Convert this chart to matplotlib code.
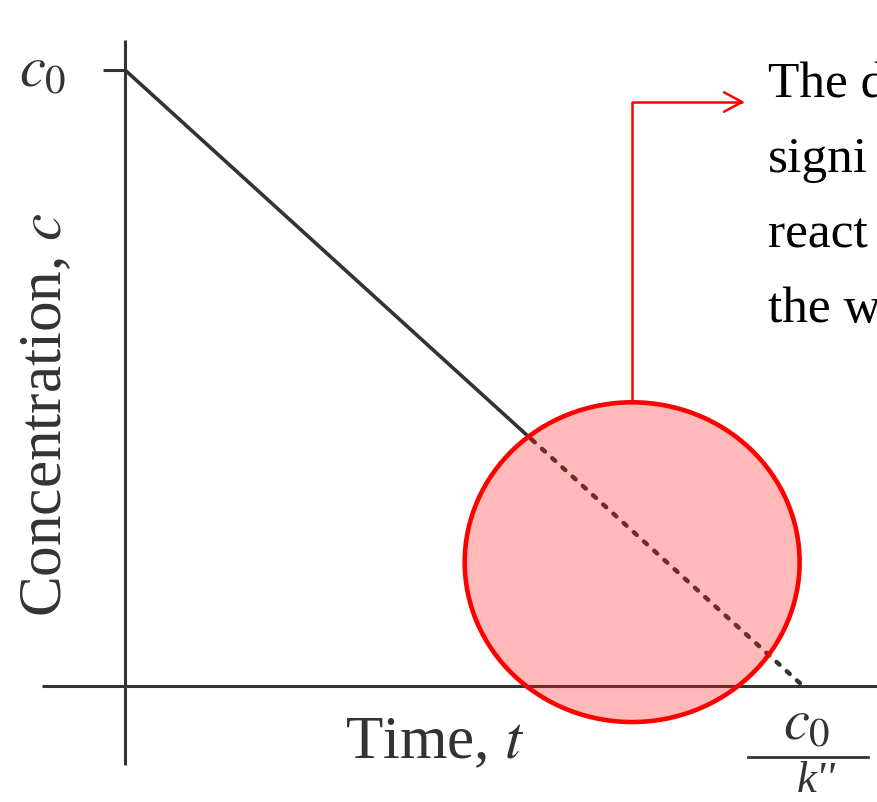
import matplotlib
matplotlib.use('Agg')
import matplotlib.pyplot as plt
from matplotlib.patches import Ellipse

plt.rcParams['font.family'] = ['Liberation Serif', 'DejaVu Serif']
plt.rcParams['mathtext.fontset'] = 'stix'

# zero-order decay c = c0 - k'' t, with c0 = 1 and k'' = 1
c0 = 1.0
k2 = 1.0
t_solid = [0.0, 0.6]
c_solid = [1.0, 0.4]
t_dotted = [0.6, 1.0]
c_dotted = [0.4, 0.0]

note_lines = ['The d', 'signi', 'react', 'the w']

ink = '#333333'

fig = plt.figure(figsize=(8.78, 8.02), dpi=100)
ax = fig.add_axes([0, 0, 1, 1])
ax.set_xlim(-0.1844, 1.1106)
ax.set_ylim(-0.1883, 1.1136)
ax.axis('off')

# hand-drawn style axes
ax.plot([0, 0], [-0.128, 1.049], color=ink, lw=2.2, solid_capstyle='butt')
ax.plot([-0.122, 1.12], [0, 0], color=ink, lw=2.2, solid_capstyle='butt')
ax.plot([-0.0324, 0], [c0, c0], color=ink, lw=2.2, solid_capstyle='butt')

ax.plot(t_solid, c_solid, color=ink, lw=2.6, solid_capstyle='round')
ax.plot(t_dotted, c_dotted, color=ink, lw=3.2, linestyle=(0, (0.9, 2.2)),
        dash_capstyle='round')

# highlight circle
circ = Ellipse((0.748, 0.201), 0.494, 0.519, facecolor=(1, 0.1, 0.1, 0.3),
               edgecolor='red', lw=3.3, zorder=5)
ax.add_patch(circ)

ax.annotate('', xy=(0.914, 0.948), xytext=(0.748, 0.461),
            arrowprops=dict(arrowstyle='->,head_length=0.65,head_width=0.35',
                            color='red', lw=1.8, mutation_scale=20,
                            shrinkA=0, shrinkB=0,
                            connectionstyle='angle,angleA=90,angleB=0,rad=0'),
            zorder=6)

# labels
ax.text(-0.121, 0.995, r'$c_0$', fontsize=42, color=ink, ha='center', va='center')
ax.text(-0.0945, 0.44, r'Concentration, $c$', fontsize=44, color=ink,
        rotation=90, rotation_mode='anchor', ha='center', va='baseline')
ax.text(0.457, -0.117, r'Time, $t$', fontsize=44, color=ink,
        ha='center', va='baseline')

# c0 / k'' below the end of the line
ax.text(1.006, -0.065, r'$c_0$', fontsize=42, color=ink, ha='center', va='center')
ax.plot([0.919, 1.096], [-0.115, -0.115], color=ink, lw=2.0)
ax.text(1.02, -0.1867, "k''", fontsize=32, style='italic', color=ink,
        ha='center', va='bottom')

for i, line in enumerate(note_lines):
    ax.text(0.8747, 0.879 - i * 0.0935, line, fontsize=37, color='black',
            transform=ax.transAxes, ha='left', va='baseline', clip_on=False)

fig.savefig('out.png', dpi=100)
